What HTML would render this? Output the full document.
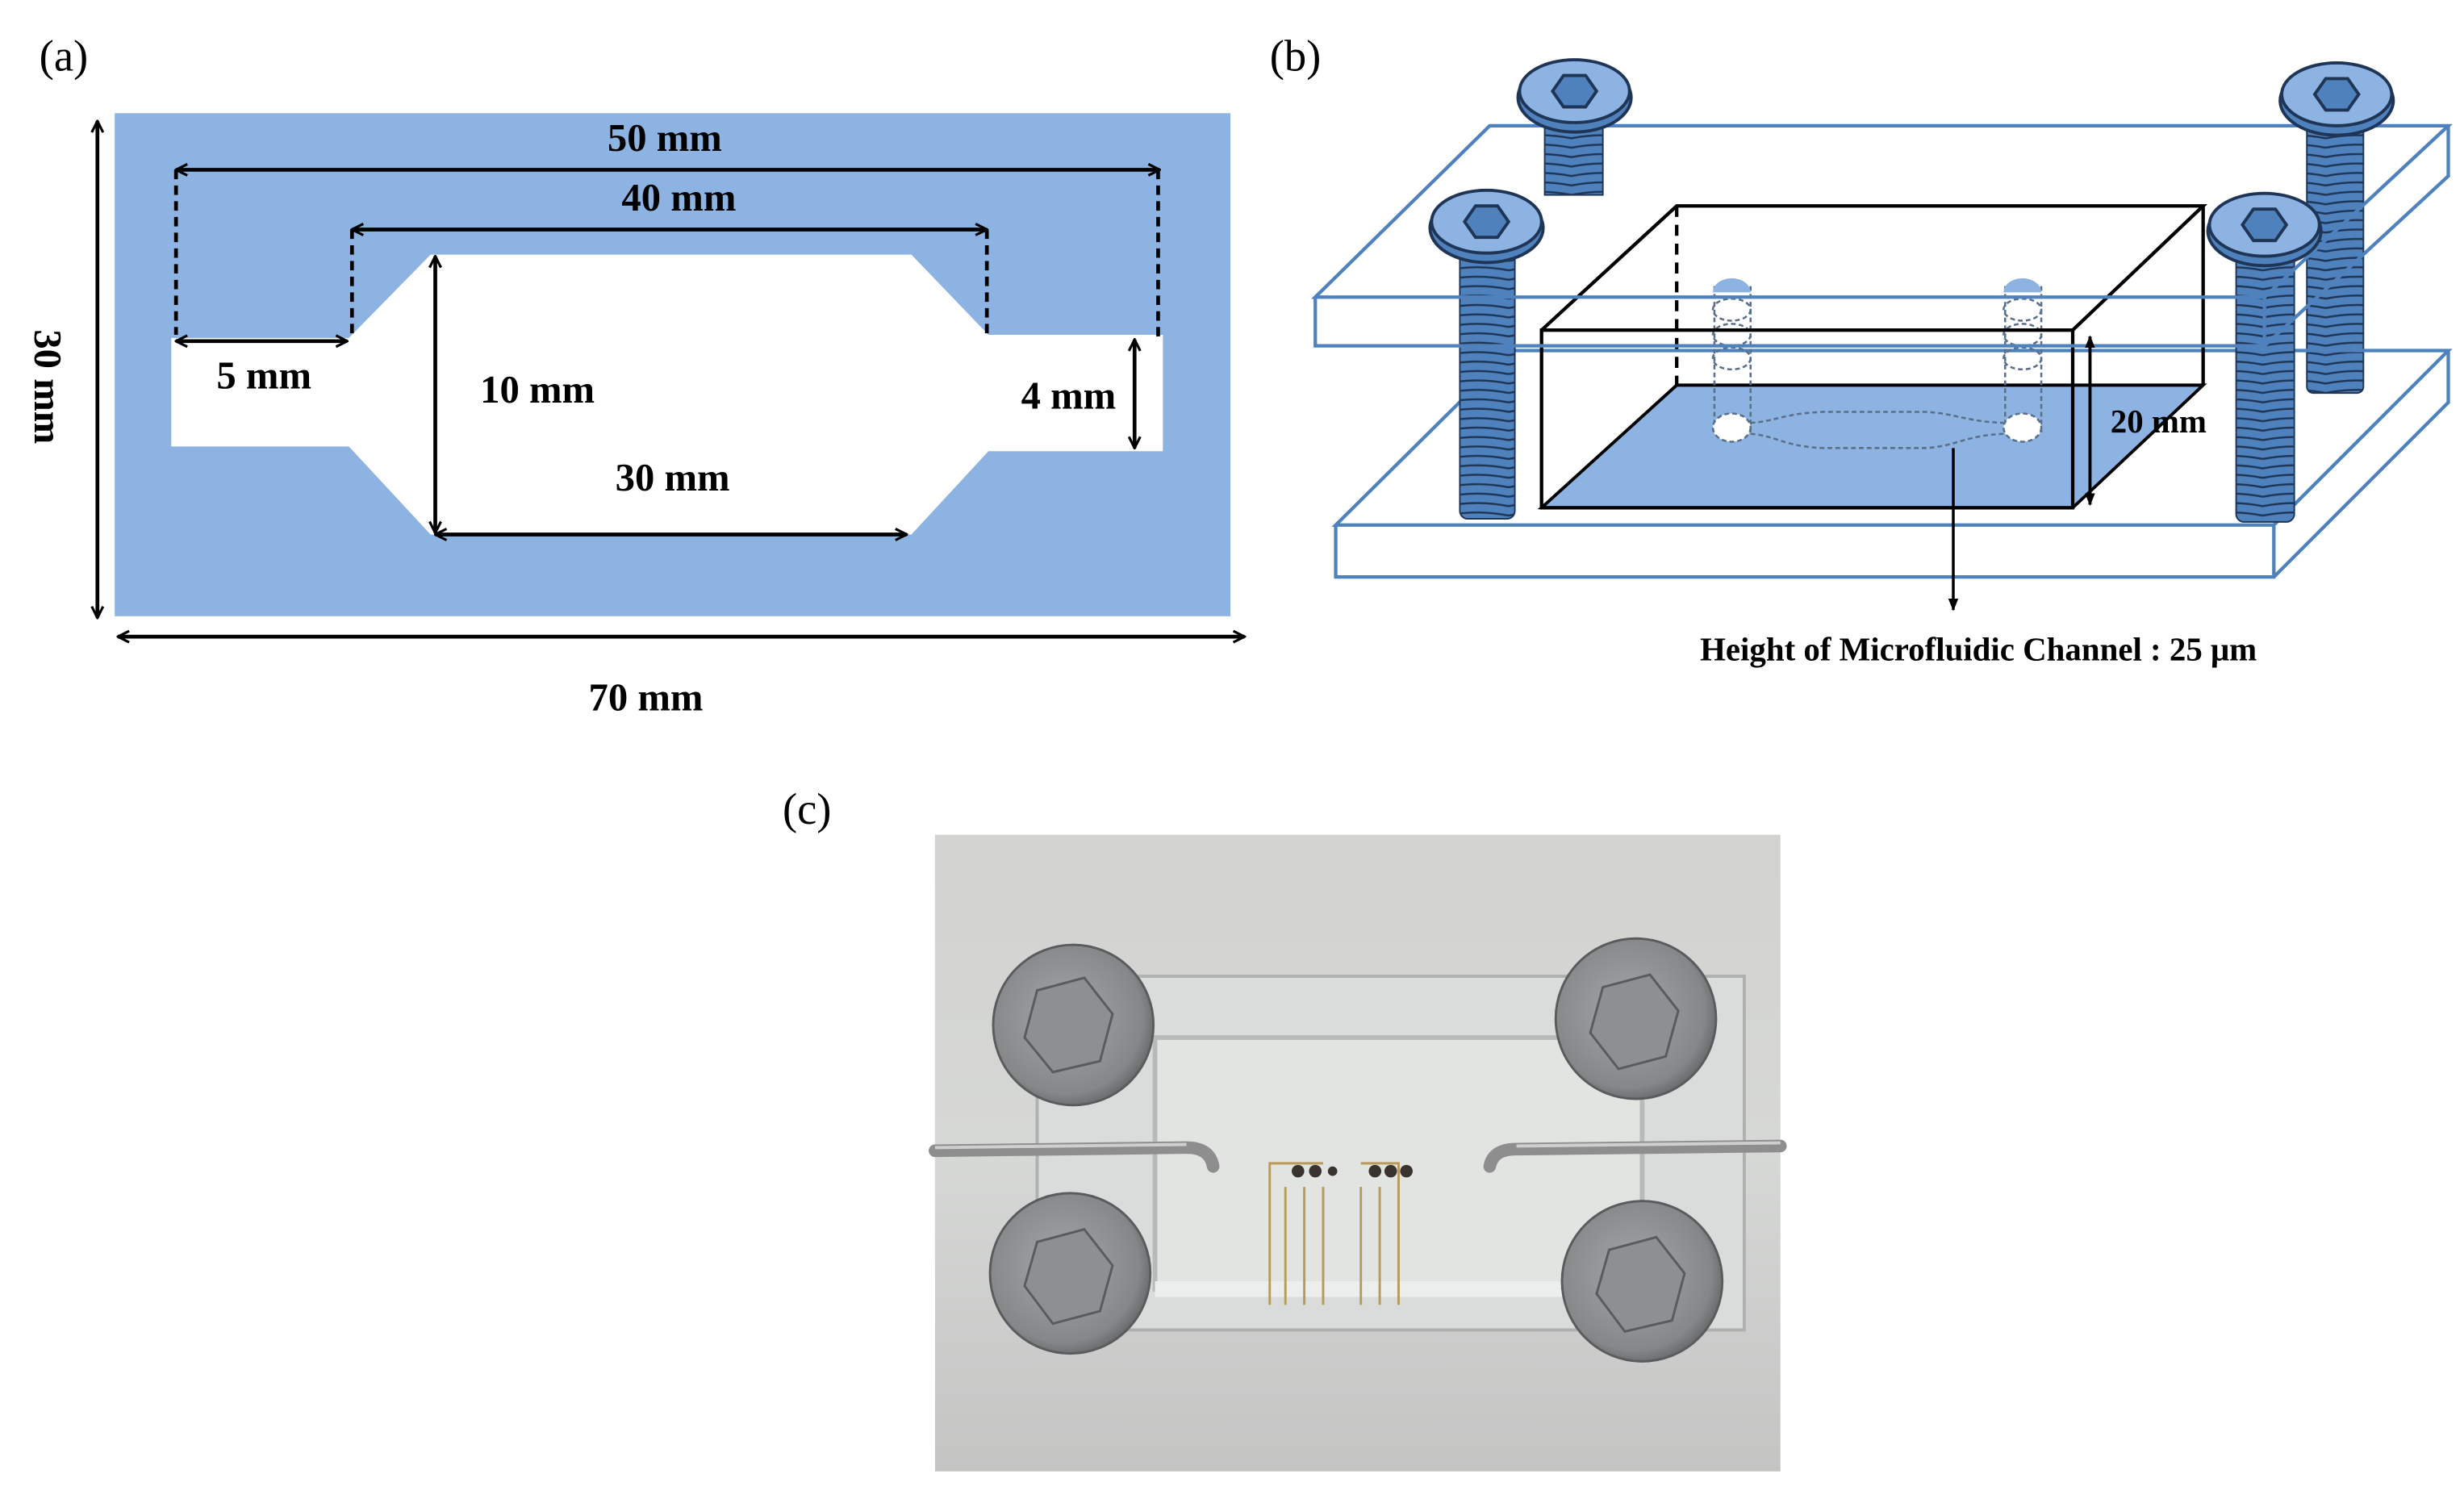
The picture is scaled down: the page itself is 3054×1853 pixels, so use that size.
<!DOCTYPE html>
<html><head><meta charset="utf-8"><style>
html,body{margin:0;padding:0;background:#fff;}
svg{display:block;}
text{font-family:"Liberation Serif",serif;}
</style></head><body>
<svg width="3054" height="1853" viewBox="0 0 1568 951" preserveAspectRatio="none" xmlns="http://www.w3.org/2000/svg">
<defs>
<marker id="ah" viewBox="0 0 10 10" refX="9" refY="5" markerWidth="9" markerHeight="9" orient="auto-start-reverse" markerUnits="userSpaceOnUse">
<path d="M1,1 L9,5 L1,9" fill="none" stroke="#000" stroke-width="1.8"/></marker>
<marker id="ah2" viewBox="0 0 10 10" refX="9" refY="5" markerWidth="8" markerHeight="8" orient="auto-start-reverse" markerUnits="userSpaceOnUse">
<path d="M0,1 L10,5 L0,9 z" fill="#000"/></marker>
<pattern id="thr" width="40" height="6" patternUnits="userSpaceOnUse">
<rect width="40" height="6" fill="#4f81bd"/>
<path d="M0,4 Q20,0 40,4" fill="none" stroke="#1f3556" stroke-width="1.3"/>
</pattern>
<radialGradient id="bolt" cx="45%" cy="45%" r="60%"><stop offset="0" stop-color="#a4a6a7"/><stop offset="0.8" stop-color="#858789"/><stop offset="1" stop-color="#5e6061"/></radialGradient>
<linearGradient id="bg" x1="0" y1="0" x2="0" y2="1"><stop offset="0" stop-color="#d2d2d0"/><stop offset="0.5" stop-color="#d6d8d6"/><stop offset="1" stop-color="#c4c4c3"/></linearGradient>
</defs>

<!-- Panel (a) -->
<text x="25" y="45" font-size="28">(a)</text>
<rect x="73" y="72" width="710" height="320" fill="#8db3e2"/>
<path d="M109,215 L222,215 L274,162 L580,162 L629,213 L740,213 L740,287 L629,287 L580,340 L274,340 L222,284 L109,284 Z" fill="#fff"/>
<g stroke="#000" stroke-width="2.4" fill="none">
<line x1="112" y1="108" x2="738" y2="108" marker-start="url(#ah)" marker-end="url(#ah)"/>
<line x1="224" y1="146" x2="628" y2="146" marker-start="url(#ah)" marker-end="url(#ah)"/>
<line x1="112" y1="217" x2="221" y2="217" marker-start="url(#ah)" marker-end="url(#ah)"/>
<line x1="277" y1="163" x2="277" y2="339" marker-start="url(#ah)" marker-end="url(#ah)"/>
<line x1="277" y1="340" x2="577" y2="340" marker-start="url(#ah)" marker-end="url(#ah)"/>
<line x1="722" y1="216" x2="722" y2="285" marker-start="url(#ah)" marker-end="url(#ah)"/>
<line x1="62" y1="77" x2="62" y2="393" marker-start="url(#ah)" marker-end="url(#ah)"/>
<line x1="75" y1="405" x2="792" y2="405" marker-start="url(#ah)" marker-end="url(#ah)"/>
<g stroke-dasharray="6,4">
<line x1="112" y1="108" x2="112" y2="213"/><line x1="737" y1="108" x2="737" y2="215"/>
<line x1="224" y1="146" x2="224" y2="215"/><line x1="628" y1="146" x2="628" y2="213"/>
</g></g>
<g font-size="25" font-weight="bold" text-anchor="middle">
<text x="423" y="96">50 mm</text>
<text x="432" y="134">40 mm</text>
<text x="168" y="247">5 mm</text>
<text x="342" y="256">10 mm</text>
<text x="680" y="260">4 mm</text>
<text x="428" y="312">30 mm</text>
<text x="411" y="452">70 mm</text>
<text transform="translate(22,246) rotate(90)">30 mm</text>
</g>

<!-- Panel (b) -->
<text x="808" y="45" font-size="28">(b)</text>
<rect x="983" y="72" width="37" height="52" fill="url(#thr)" stroke="#1f3556" stroke-width="1"/>
<rect x="1468" y="72" width="36" height="178" rx="4" fill="url(#thr)" stroke="#1f3556" stroke-width="1"/>
<g fill="none" stroke="#4f81bd" stroke-width="2.2">
<path d="M850,334 L962,223 L1558,223 L1447,334 Z"/>
<path d="M850,334 L850,367 L1447,367 L1447,334 M1447,367 L1558,256 L1558,223"/>
</g>
<path d="M981,323 L1319,323 L1402,245 L1067,245 Z" fill="#8db3e2" stroke="#000" stroke-width="2"/>
<g fill="none" stroke="#5a6f88" stroke-width="1.3" stroke-dasharray="3,2">
<path d="M1114,269 C1130,268 1135,263 1160,262 L1225,262 C1245,263 1250,268 1275,269 M1114,276 C1130,277 1135,284 1160,285 L1225,285 C1245,284 1250,277 1275,276"/>
<line x1="1091" y1="182" x2="1091" y2="275"/><line x1="1114" y1="182" x2="1114" y2="275"/>
<line x1="1276" y1="182" x2="1276" y2="275"/><line x1="1299" y1="182" x2="1299" y2="275"/>
<ellipse cx="1102" cy="197" rx="12" ry="7"/><ellipse cx="1102" cy="213" rx="12" ry="7"/><ellipse cx="1102" cy="228" rx="12" ry="7"/>
<ellipse cx="1287" cy="197" rx="12" ry="7"/><ellipse cx="1287" cy="213" rx="12" ry="7"/><ellipse cx="1287" cy="228" rx="12" ry="7"/>
</g>
<ellipse cx="1102" cy="272" rx="12" ry="9" fill="#fff" stroke="#5a6f88" stroke-width="1.3" stroke-dasharray="3,2"/>
<ellipse cx="1287" cy="272" rx="12" ry="9" fill="#fff" stroke="#5a6f88" stroke-width="1.3" stroke-dasharray="3,2"/>
<path d="M1090,186 a12,9 0 0 1 24,0 Z" fill="#8db3e2"/>
<path d="M1275,186 a12,9 0 0 1 24,0 Z" fill="#8db3e2"/>
<g fill="none" stroke="#000" stroke-width="2.2">
<rect x="981" y="210" width="338" height="113"/>
<path d="M981,210 L1067,131 L1402,131 L1319,210 M1402,131 L1402,245"/>
<line x1="1067" y1="131" x2="1067" y2="245" stroke-dasharray="7,5"/>
</g>
<rect x="929" y="150" width="35" height="180" rx="5" fill="url(#thr)" stroke="#1f3556" stroke-width="1"/>
<rect x="1423" y="150" width="37" height="182" rx="5" fill="url(#thr)" stroke="#1f3556" stroke-width="1"/>
<g fill="none" stroke="#4f81bd" stroke-width="2.2">
<path d="M837,189 L948,80 L1558,80 L1441,189 Z"/>
<path d="M837,189 L837,220 L1441,220 L1441,189 M1441,220 L1558,112 L1558,80"/>
</g>
<g stroke="#1f3556" stroke-width="2">
<g transform="translate(1002,58)"><ellipse cx="0" cy="4" rx="36" ry="22" fill="#4f81bd"/><ellipse cx="0" cy="0" rx="35" ry="20" fill="#8db3e2"/><polygon points="-14,0 -7,-10 7,-10 14,0 7,10 -7,10" fill="#4f81bd"/></g>
<g transform="translate(1487,60)"><ellipse cx="0" cy="4" rx="36" ry="22" fill="#4f81bd"/><ellipse cx="0" cy="0" rx="35" ry="20" fill="#8db3e2"/><polygon points="-14,0 -7,-10 7,-10 14,0 7,10 -7,10" fill="#4f81bd"/></g>
<g transform="translate(946,141)"><ellipse cx="0" cy="4" rx="36" ry="22" fill="#4f81bd"/><ellipse cx="0" cy="0" rx="35" ry="20" fill="#8db3e2"/><polygon points="-14,0 -7,-10 7,-10 14,0 7,10 -7,10" fill="#4f81bd"/></g>
<g transform="translate(1441,143)"><ellipse cx="0" cy="4" rx="36" ry="22" fill="#4f81bd"/><ellipse cx="0" cy="0" rx="35" ry="20" fill="#8db3e2"/><polygon points="-14,0 -7,-10 7,-10 14,0 7,10 -7,10" fill="#4f81bd"/></g>
</g>
<line x1="1330" y1="214" x2="1330" y2="321" stroke="#000" stroke-width="2" marker-start="url(#ah2)" marker-end="url(#ah2)"/>
<text x="1343" y="275" font-size="21" font-weight="bold">20 mm</text>
<line x1="1243" y1="285" x2="1243" y2="388" stroke="#000" stroke-width="1.8" marker-end="url(#ah2)"/>
<text x="1259" y="420" font-size="21" font-weight="bold" text-anchor="middle">Height of Microfluidic Channel : 25 μm</text>

<!-- Panel (c) -->
<text x="498" y="524" font-size="28">(c)</text>
<rect x="595" y="531" width="538" height="405" fill="url(#bg)"/>
<rect x="660" y="621" width="450" height="225" fill="#d9dcda" stroke="#aeb1af" stroke-width="2"/>
<rect x="735" y="660" width="310" height="160" fill="#e2e4e2" stroke="#b7bab8" stroke-width="3"/>
<rect x="735" y="815" width="310" height="10" fill="#eceeed"/>
<g stroke="#b89a5a" stroke-width="1.5" fill="none">
<path d="M808,830 L808,740 L842,740 M818,830 L818,755 M830,830 L830,755 M842,830 L842,755"/>
<path d="M866,830 L866,755 M878,830 L878,755 M890,830 L890,740 L866,740"/>
</g>
<g fill="#3b3330"><circle cx="826" cy="745" r="4"/><circle cx="837" cy="745" r="4"/><circle cx="848" cy="745" r="3"/><circle cx="875" cy="745" r="4"/><circle cx="885" cy="745" r="4"/><circle cx="895" cy="745" r="4"/></g>
<path d="M595,732 L755,730 Q770,730 772,742" fill="none" stroke="#8e8e8e" stroke-width="8" stroke-linecap="round"/>
<path d="M595,730 L755,728" fill="none" stroke="#cfcfcf" stroke-width="2"/>
<path d="M1133,729 L965,731 Q950,731 948,742" fill="none" stroke="#8e8e8e" stroke-width="8" stroke-linecap="round"/>
<path d="M1133,727 L965,729" fill="none" stroke="#cfcfcf" stroke-width="2"/>
<g stroke="#5a5b5c" stroke-width="1.5">
<circle cx="683" cy="652" r="51" fill="url(#bolt)"/><polygon points="660,630 690,622 708,645 700,675 670,682 652,660" fill="#8d8f90"/>
<circle cx="1041" cy="648" r="51" fill="url(#bolt)"/><polygon points="1020,628 1050,620 1068,643 1060,672 1030,680 1012,657" fill="#8d8f90"/>
<circle cx="681" cy="810" r="51" fill="url(#bolt)"/><polygon points="660,790 690,782 708,805 700,834 670,842 652,818" fill="#8d8f90"/>
<circle cx="1045" cy="815" r="51" fill="url(#bolt)"/><polygon points="1024,795 1054,787 1072,810 1064,840 1034,847 1016,823" fill="#8d8f90"/>
</g>
</svg>
</body></html>
